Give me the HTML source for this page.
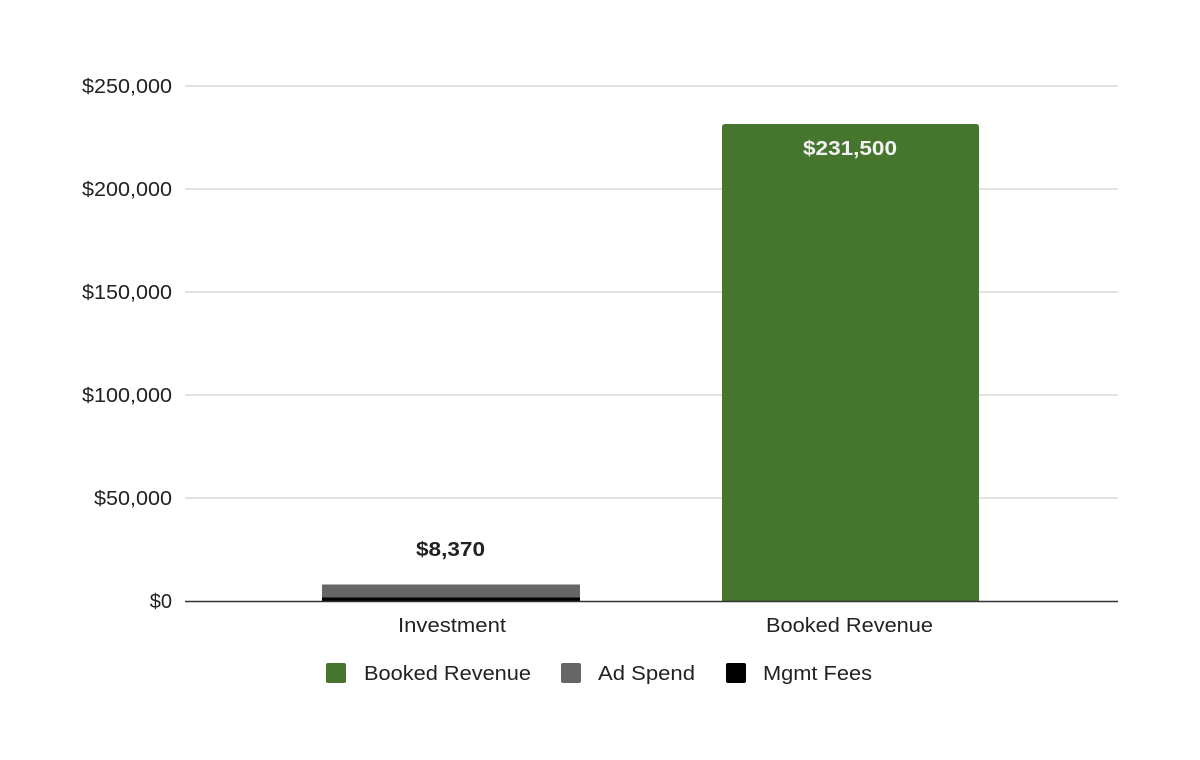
<!DOCTYPE html>
<html><head><meta charset="utf-8"><style>
html,body{margin:0;padding:0;background:#fff;}
svg{display:block;font-family:"Liberation Sans",Arial,sans-serif;}
</style></head><body>
<svg width="1200" height="760" viewBox="0 0 1200 760">
<g stroke="#d0d0d0" stroke-width="1.3">
<line x1="185" x2="1118" y1="86" y2="86"/>
<line x1="185" x2="1118" y1="189" y2="189"/>
<line x1="185" x2="1118" y1="292" y2="292"/>
<line x1="185" x2="1118" y1="395" y2="395"/>
<line x1="185" x2="1118" y1="498" y2="498"/>
</g>
<g font-size="20" fill="#222" text-anchor="end" lengthAdjust="spacingAndGlyphs">
<text x="172" y="93" textLength="90" lengthAdjust="spacingAndGlyphs">$250,000</text>
<text x="172" y="196" textLength="90" lengthAdjust="spacingAndGlyphs">$200,000</text>
<text x="172" y="299" textLength="90" lengthAdjust="spacingAndGlyphs">$150,000</text>
<text x="172" y="402" textLength="90" lengthAdjust="spacingAndGlyphs">$100,000</text>
<text x="172" y="505" textLength="78" lengthAdjust="spacingAndGlyphs">$50,000</text>
<text x="172" y="608">$0</text>
</g>
<rect x="322" y="584.5" width="258" height="13" fill="#666"/>
<rect x="322" y="597.5" width="258" height="4" fill="#000"/>
<path d="M722,601 V127 Q722,124 725,124 H976 Q979,124 979,127 V601 Z" fill="#46752e"/>
<line x1="185" x2="1118" y1="601.5" y2="601.5" stroke="#333" stroke-width="1.5"/>
<text x="416" y="556" font-size="20" font-weight="bold" fill="#222" textLength="69" lengthAdjust="spacingAndGlyphs">$8,370</text>
<text x="803" y="155" font-size="20" font-weight="bold" fill="#f2f2f2" textLength="94" lengthAdjust="spacingAndGlyphs">$231,500</text>
<g font-size="20" fill="#222">
<text x="398" y="632" textLength="108" lengthAdjust="spacingAndGlyphs">Investment</text>
<text x="766" y="632" textLength="167" lengthAdjust="spacingAndGlyphs">Booked Revenue</text>
</g>
<rect x="326" y="663" width="20" height="20" rx="2" fill="#46752e"/>
<rect x="561" y="663" width="20" height="20" rx="2" fill="#666"/>
<rect x="726" y="663" width="20" height="20" rx="2" fill="#000"/>
<g font-size="20" fill="#222">
<text x="364" y="680" textLength="167" lengthAdjust="spacingAndGlyphs">Booked Revenue</text>
<text x="598" y="680" textLength="97" lengthAdjust="spacingAndGlyphs">Ad Spend</text>
<text x="763" y="680" textLength="109" lengthAdjust="spacingAndGlyphs">Mgmt Fees</text>
</g>
</svg>
</body></html>
